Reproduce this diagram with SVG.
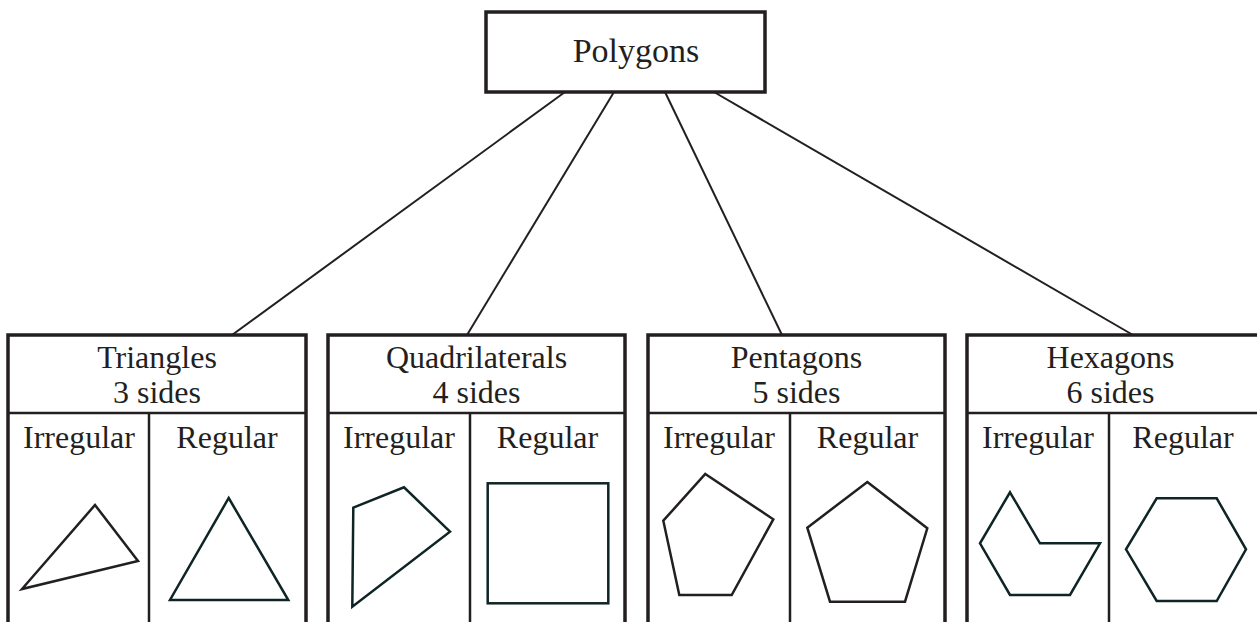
<svg xmlns="http://www.w3.org/2000/svg" width="1257" height="622" viewBox="0 0 1257 622">
<style>
.t{font-family:"Liberation Serif","Times New Roman",serif;font-size:32px;fill:#231f20;text-anchor:middle}
.tt{font-family:"Liberation Serif","Times New Roman",serif;font-size:34px;fill:#231f20;text-anchor:middle}
.box{fill:#fff;stroke:#231f20;stroke-width:3.5}
.div{stroke:#231f20;stroke-width:2.5;fill:none}
.shape{fill:none;stroke:#0f2424;stroke-width:2.5;stroke-linejoin:miter}
.conn{stroke:#231f20;stroke-width:2;fill:none}
</style>
<rect width="1257" height="622" fill="#fff"/>
<g id="connectors">
<line class="conn" x1="565" y1="92" x2="232" y2="335"/>
<line class="conn" x1="614" y1="92" x2="467" y2="335"/>
<line class="conn" x1="665" y1="92" x2="782" y2="335"/>
<line class="conn" x1="714" y1="92" x2="1133" y2="335"/>
</g>
<g id="polygons">
<rect class="box" x="486" y="12" width="279" height="80" stroke-width="4.5"/>
<text class="tt" x="636" y="62">Polygons</text>
</g>
<g id="triangles">
<path class="box" d="M8,626 V335 H306 V626"/>
<line class="div" x1="8" y1="413" x2="306" y2="413"/>
<line class="div" x1="149" y1="413" x2="149" y2="626"/>
<text class="t" x="157" y="368">Triangles</text>
<text class="t" x="157" y="403">3 sides</text>
<text class="t" x="79" y="448">Irregular</text>
<text class="t" x="227" y="448">Regular</text>
<polygon class="shape" points="95,505 138,561 22,589" stroke="#231f20" style="stroke:#231f20"/>
<polygon class="shape" points="228.7,498 288.3,600 170,600"/>
</g>
<g id="quadrilaterals">
<path class="box" d="M328,626 V335 H625 V626"/>
<line class="div" x1="328" y1="413" x2="625" y2="413"/>
<line class="div" x1="470" y1="413" x2="470" y2="626"/>
<text class="t" x="476.5" y="368">Quadrilaterals</text>
<text class="t" x="476.5" y="403">4 sides</text>
<text class="t" x="399" y="448">Irregular</text>
<text class="t" x="547.5" y="448">Regular</text>
<polygon class="shape" points="353.3,507.7 404,487.3 450,531.7 352.3,606.7"/>
<rect class="shape" x="487.7" y="483.3" width="120.6" height="120"/>
</g>
<g id="pentagons">
<path class="box" d="M648,626 V335 H945 V626"/>
<line class="div" x1="648" y1="413" x2="945" y2="413"/>
<line class="div" x1="790" y1="413" x2="790" y2="626"/>
<text class="t" x="796.5" y="368">Pentagons</text>
<text class="t" x="796.5" y="403">5 sides</text>
<text class="t" x="719" y="448">Irregular</text>
<text class="t" x="867.5" y="448">Regular</text>
<polygon class="shape" points="705.3,474 773.3,519.3 731.7,595 679.3,595 663.3,520.7" style="stroke:#231f20"/>
<polygon class="shape" points="867.3,482 927.3,528.3 905,601.7 830,601.7 807.3,527.7" style="stroke:#231f20"/>
</g>
<g id="hexagons">
<path class="box" d="M967,626 V335 H1262 V626"/>
<line class="div" x1="967" y1="413" x2="1262" y2="413"/>
<line class="div" x1="1109" y1="413" x2="1109" y2="626"/>
<text class="t" x="1110.5" y="368">Hexagons</text>
<text class="t" x="1110.5" y="403">6 sides</text>
<text class="t" x="1038" y="448">Irregular</text>
<text class="t" x="1183" y="448">Regular</text>
<polygon class="shape" points="1010,492.3 1040,543.3 1100,543.3 1070,595 1010,595 980,543.3"/>
<polygon class="shape" points="1156.7,498.3 1216.7,498.3 1246,549.3 1216.7,601 1156.7,601 1126,549.3"/>
</g>
</svg>
